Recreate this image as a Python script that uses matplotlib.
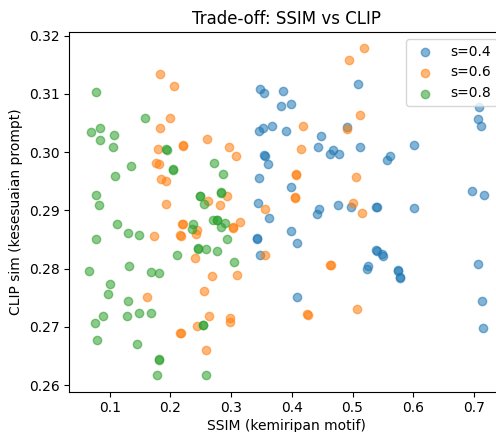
import matplotlib
matplotlib.use("Agg")
import matplotlib.pyplot as plt

# s=0.4
x_s04 = [0.3473, 0.3539, 0.3847, 0.3824, 0.3979, 0.3456, 0.3517, 0.3671, 0.3896, 0.4902,
         0.4478, 0.4429, 0.4627, 0.4681, 0.4770, 0.3545, 0.3555, 0.3605, 0.3456, 0.3984,
         0.3445, 0.4445, 0.4417, 0.4763, 0.4968, 0.5093, 0.5121, 0.3626, 0.3984, 0.3425,
         0.3431, 0.4078, 0.3473, 0.4088, 0.7088, 0.7061, 0.7111, 0.6016, 0.5616, 0.5566,
         0.6972, 0.7165, 0.5393, 0.5399, 0.6016, 0.5393, 0.5399, 0.5479, 0.5505, 0.5232,
         0.5248, 0.5749, 0.5755, 0.5777, 0.5783, 0.7061, 0.7137, 0.7153]
y_s04 = [0.3109, 0.3101, 0.3104, 0.3079, 0.3082, 0.3037, 0.3042, 0.3045, 0.3037, 0.3043,
         0.3027, 0.3008, 0.2996, 0.3004, 0.2997, 0.2995, 0.2993, 0.2979, 0.2956, 0.2940,
         0.2913, 0.2903, 0.2893, 0.2910, 0.2905, 0.3116, 0.3009, 0.2887, 0.2865, 0.2851,
         0.2852, 0.2844, 0.2824, 0.2751, 0.3077, 0.3056, 0.3045, 0.3013, 0.2994, 0.2986,
         0.2934, 0.2927, 0.2906, 0.2905, 0.2904, 0.2832, 0.2831, 0.2826, 0.2821, 0.2800,
         0.2804, 0.2797, 0.2796, 0.2785, 0.2784, 0.2808, 0.2744, 0.2698]

# s=0.6
x_s06 = [0.1825, 0.2055, 0.1994, 0.1825, 0.2599, 0.2206, 0.2212, 0.1792, 0.1770, 0.1813,
         0.1841, 0.1924, 0.1935, 0.2611, 0.2196, 0.2202, 0.2439, 0.2413, 0.2163, 0.2169,
         0.1726, 0.2406, 0.2690, 0.2550, 0.1615, 0.2632, 0.2430, 0.2163, 0.2169, 0.2578,
         0.4935, 0.2967, 0.3077, 0.4187, 0.4149, 0.4063, 0.4069, 0.4052, 0.4058, 0.4902,
         0.5055, 0.5121, 0.2924, 0.2814, 0.3555, 0.5011, 0.3143, 0.3030, 0.3036, 0.3555,
         0.3089, 0.4635, 0.4641, 0.4256, 0.4262, 0.5067, 0.2978, 0.2978, 0.5192, 0.5154]
y_s06 = [0.3134, 0.3114, 0.3058, 0.3042, 0.3023, 0.3012, 0.3011, 0.3006, 0.2982, 0.2979,
         0.2954, 0.2950, 0.2911, 0.2916, 0.2877, 0.2876, 0.2867, 0.2859, 0.2857, 0.2856,
         0.2856, 0.2819, 0.2788, 0.2762, 0.2751, 0.2719, 0.2701, 0.2690, 0.2689, 0.2661,
         0.3158, 0.3009, 0.2994, 0.3045, 0.3005, 0.2962, 0.2961, 0.2923, 0.2922, 0.3039,
         0.2958, 0.3063, 0.2924, 0.2909, 0.2902, 0.2913, 0.2880, 0.2871, 0.2870, 0.2824,
         0.2790, 0.2807, 0.2806, 0.2722, 0.2721, 0.2731, 0.2716, 0.2708, 0.3178, 0.2896]

# s=0.8
x_s08 = [0.0781, 0.1577, 0.0699, 0.0847, 0.0847, 0.1071, 0.1055, 0.1347, 0.1088, 0.0781,
         0.0824, 0.1932, 0.1938, 0.2041, 0.2047, 0.2715, 0.2481, 0.2487, 0.2550, 0.2827,
         0.2833, 0.1121, 0.0781, 0.1302, 0.1483, 0.2374, 0.2357, 0.2769, 0.2775, 0.2453,
         0.2459, 0.2578, 0.2759, 0.2100, 0.0659, 0.1319, 0.1688, 0.1813, 0.1012, 0.0972,
         0.1302, 0.0890, 0.1292, 0.1474, 0.1688, 0.0753, 0.2535, 0.2541, 0.0798, 0.1457,
         0.1805, 0.1811, 0.1780, 0.2578, 0.2868, 0.2703, 0.2896, 0.2825, 0.2934, 0.3044]
y_s08 = [0.3103, 0.3059, 0.3034, 0.3042, 0.3020, 0.3030, 0.3009, 0.2976, 0.2959, 0.2927,
         0.2909, 0.3005, 0.3004, 0.2971, 0.2970, 0.2981, 0.2925, 0.2924, 0.2911, 0.2931,
         0.2930, 0.2877, 0.2851, 0.2861, 0.2857, 0.2877, 0.2868, 0.2884, 0.2883, 0.2835,
         0.2834, 0.2833, 0.2831, 0.2824, 0.2796, 0.2805, 0.2795, 0.2793, 0.2773, 0.2756,
         0.2744, 0.2719, 0.2719, 0.2724, 0.2724, 0.2706, 0.2704, 0.2703, 0.2678, 0.2671,
         0.2645, 0.2644, 0.2618, 0.2617, 0.2962, 0.2883, 0.2878, 0.2871, 0.2851, 0.2812]

series = [("s=0.4", x_s04, y_s04), ("s=0.6", x_s06, y_s06), ("s=0.8", x_s08, y_s08)]

fig = plt.figure(figsize=(4.96, 4.32), dpi=100)
ax = fig.add_axes([0.1397, 0.0933, 0.8758, 0.8326])
for label, xs, ys in series:
    ax.scatter(xs, ys, alpha=0.55, label=label)
ax.set_title("Trade-off: SSIM vs CLIP")
ax.set_xlabel("SSIM (kemiripan motif)", labelpad=2.5)
ax.set_ylabel("CLIP sim (kesesuaian prompt)")
ax.legend(loc="upper right")
fig.savefig("out.png", dpi=100)
